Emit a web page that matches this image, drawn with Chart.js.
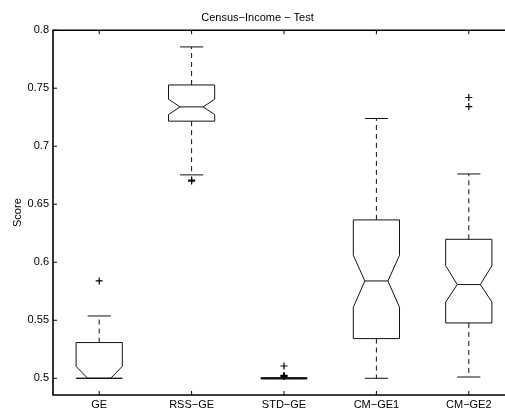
<!DOCTYPE html>
<html>
<head>
<meta charset="utf-8">
<script src="https://cdn.jsdelivr.net/npm/chart.js@4"></script>
<style>
  html, body { margin: 0; padding: 0; background: #fff; overflow: hidden; }
  #wrap { width: 530px; height: 408px; }
</style>
</head>
<body>
<div id="wrap"><canvas id="chart"></canvas></div>
<script>
// box statistics per method (Score)
const categories = ["GE", "RSS\u2212GE", "STD\u2212GE", "CM\u2212GE1", "CM\u2212GE2"];
const whiskerLow  = [0.5,    0.6753, 0.5, 0.5,    0.5011];
const quartile1   = [0.5,    0.7216, 0.5, 0.5342, 0.5477];
const notchLow    = [0.4897, 0.7273, 0.5, 0.5612, 0.5658];
const medians     = [0.5,    0.7339, 0.5, 0.5839, 0.5808];
const notchHigh   = [0.5103, 0.7405, 0.5, 0.606,  0.597];
const quartile3   = [0.5308, 0.7528, 0.5, 0.6365, 0.6198];
const whiskerHigh = [0.5537, 0.7856, 0.5, 0.7239, 0.6761];
const outliers = [
    [0.5839],
    [0.6700, 0.6708],
    [0.5106, 0.5015, 0.5020, 0.5025],
    [],
    [0.7420, 0.7342]
];
const yTicks = [0.5, 0.55, 0.6, 0.65, 0.7, 0.75, 0.8];

const outlierPoints = [];
outliers.forEach((list, i) => list.forEach(v => outlierPoints.push({ x: i + 1, y: v })));

const FONT = "'Liberation Sans', Arial, Helvetica, sans-serif";

const boxPlugin = {
    id: "boxes",
    beforeDatasetsDraw(chart) {
        const ctx = chart.ctx;
        const xs = chart.scales.x;
        const ys = chart.scales.y;
        const half = 0.25, inner = 0.125, cap = 0.125;

        ctx.save();
        ctx.strokeStyle = "#111";
        ctx.lineWidth = 1;

        categories.forEach((_, i) => {
            const c = i + 1;
            const X = v => xs.getPixelForValue(v);
            const Y = v => ys.getPixelForValue(v);
            const q1 = quartile1[i], q3 = quartile3[i], med = medians[i];
            const nLo = Math.max(notchLow[i], q1);
            const nHi = Math.min(notchHigh[i], q3);

            // whiskers
            ctx.setLineDash([5, 4]);
            ctx.beginPath();
            ctx.moveTo(X(c), Y(q3));
            ctx.lineTo(X(c), Y(whiskerHigh[i]));
            ctx.moveTo(X(c), Y(q1));
            ctx.lineTo(X(c), Y(whiskerLow[i]));
            ctx.stroke();
            ctx.setLineDash([]);

            // caps
            ctx.beginPath();
            ctx.moveTo(X(c - cap), Y(whiskerHigh[i]));
            ctx.lineTo(X(c + cap), Y(whiskerHigh[i]));
            ctx.moveTo(X(c - cap), Y(whiskerLow[i]));
            ctx.lineTo(X(c + cap), Y(whiskerLow[i]));
            ctx.stroke();

            // notched box
            ctx.beginPath();
            ctx.moveTo(X(c - half), Y(q1));
            ctx.lineTo(X(c - half), Y(nLo));
            ctx.lineTo(X(c - inner), Y(med));
            ctx.lineTo(X(c - half), Y(nHi));
            ctx.lineTo(X(c - half), Y(q3));
            ctx.lineTo(X(c + half), Y(q3));
            ctx.lineTo(X(c + half), Y(nHi));
            ctx.lineTo(X(c + inner), Y(med));
            ctx.lineTo(X(c + half), Y(nLo));
            ctx.lineTo(X(c + half), Y(q1));
            ctx.closePath();
            ctx.stroke();

            // median
            ctx.beginPath();
            ctx.moveTo(X(c - inner), Y(med));
            ctx.lineTo(X(c + inner), Y(med));
            ctx.stroke();

            // collapsed box: everything on one value
            if (q1 === q3 && whiskerLow[i] === whiskerHigh[i]) {
                ctx.lineWidth = 2.2;
                ctx.beginPath();
                ctx.moveTo(X(c - half), Y(med));
                ctx.lineTo(X(c + half), Y(med));
                ctx.stroke();
                ctx.lineWidth = 1;
            }
        });
        ctx.restore();
    },
    afterDraw(chart) {
        // axes frame with inward ticks
        const ctx = chart.ctx;
        const a = chart.chartArea;
        const xs = chart.scales.x;
        const ys = chart.scales.y;
        const t = 4;
        ctx.save();
        ctx.strokeStyle = "#000";
        ctx.lineWidth = 1;
        ctx.beginPath();
        yTicks.forEach(v => {
            const y = ys.getPixelForValue(v);
            ctx.moveTo(a.left, y);
            ctx.lineTo(a.left + t, y);
        });
        categories.forEach((_, i) => {
            const x = xs.getPixelForValue(i + 1);
            ctx.moveTo(x, a.bottom);
            ctx.lineTo(x, a.bottom - t);
            ctx.moveTo(x, a.top);
            ctx.lineTo(x, a.top + t);
        });
        ctx.stroke();
        ctx.lineWidth = 1.6;
        ctx.beginPath();
        ctx.moveTo(a.left, a.top);
        ctx.lineTo(a.right, a.top);
        ctx.lineTo(a.right, a.bottom);
        ctx.lineTo(a.left, a.bottom);
        ctx.closePath();
        ctx.stroke();
        ctx.restore();
    }
};

new Chart(document.getElementById("chart"), {
    type: "scatter",
    data: {
        datasets: [{
            label: "outliers",
            data: outlierPoints,
            pointStyle: "cross",
            pointRadius: 3.5,
            pointBorderColor: "#000",
            pointBorderWidth: 1.2,
            pointBackgroundColor: "#000"
        }]
    },
    options: {
        responsive: true,
        maintainAspectRatio: false,
        animation: false,
        layout: { padding: { top: 0, right: 15, bottom: 0, left: 0 } },
        plugins: {
            legend: { display: false },
            tooltip: { enabled: false },
            title: {
                display: true,
                text: "Census\u2212Income \u2212 Test",
                color: "#000",
                font: { family: FONT, size: 11, weight: "normal" },
                padding: { top: 11, bottom: 6 }
            }
        },
        scales: {
            x: {
                type: "linear",
                min: 0.5,
                max: 5.5,
                grid: { display: false, drawTicks: false },
                border: { display: false },
                afterBuildTicks: s => { s.ticks = categories.map((_, i) => ({ value: i + 1 })); },
                afterFit: s => { s.height = 13; },
                ticks: {
                    color: "#000",
                    padding: 3,
                    maxRotation: 0,
                    autoSkip: false,
                    font: { family: FONT, size: 11 },
                    callback: v => categories[v - 1]
                }
            },
            y: {
                type: "linear",
                min: 0.4856,
                max: 0.8,
                grid: { display: false, drawTicks: false },
                border: { display: false },
                afterBuildTicks: s => { s.ticks = yTicks.map(v => ({ value: v })); },
                afterFit: s => { s.width = 53; },
                title: {
                    display: true,
                    text: "Score",
                    color: "#000",
                    font: { family: FONT, size: 11 },
                    padding: { top: 11, bottom: 0 }
                },
                ticks: {
                    color: "#000",
                    padding: 4,
                    font: { family: FONT, size: 11 },
                    callback: v => String(+v.toFixed(2))
                }
            }
        }
    },
    plugins: [boxPlugin]
});
</script>
</body>
</html>
